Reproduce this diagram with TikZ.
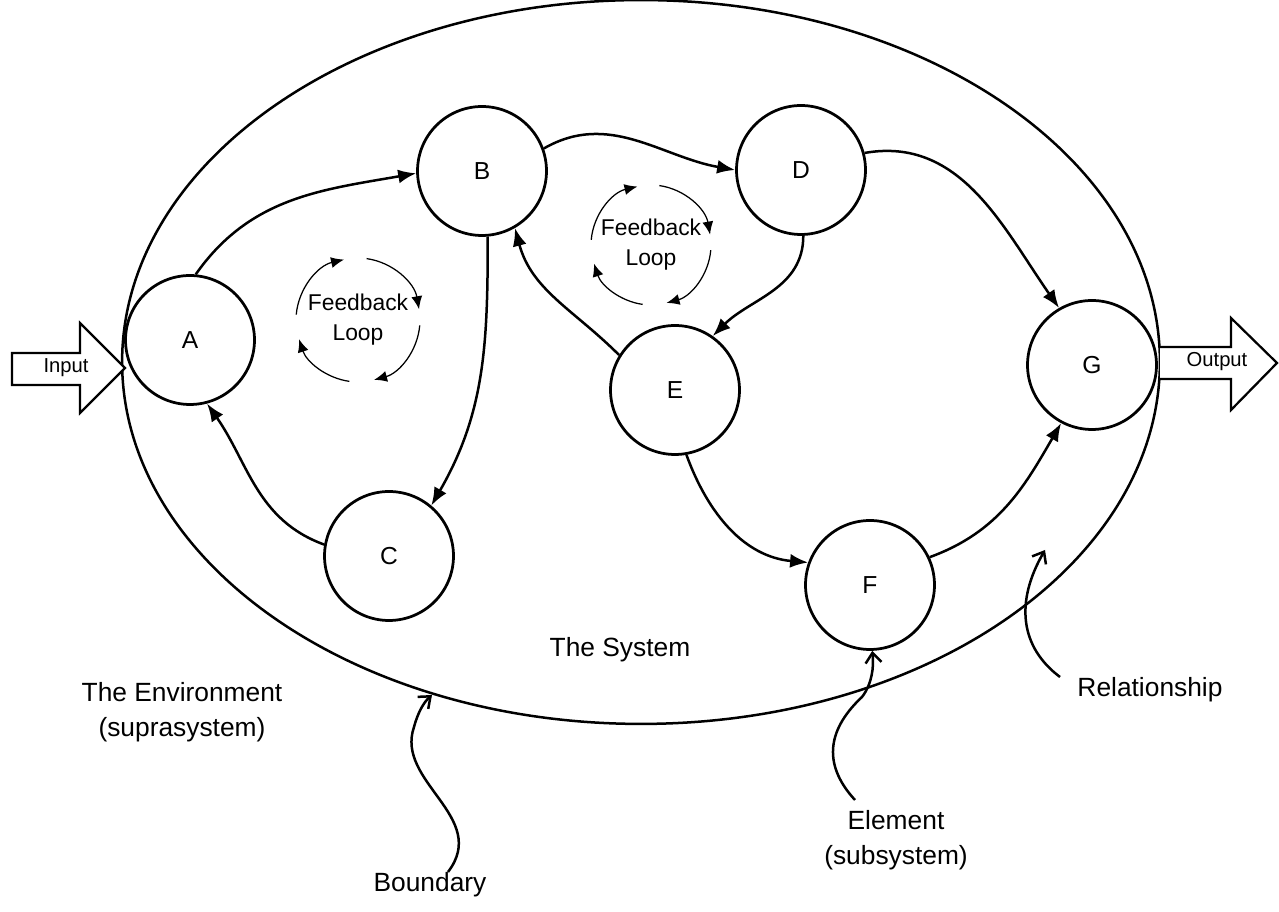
\documentclass[tikz,border=0pt]{standalone}
\usepackage{fontspec}
\setmainfont{Liberation Sans}
\usetikzlibrary{arrows.meta,calc}
\tikzset{
  elem/.style={draw, circle, line width=0.55mm, minimum size=2.58cm, inner sep=0pt, font=\fontsize{14}{16}\selectfont},
  flow/.style={line width=0.5mm, -{Latex[length=3.6mm,width=2.8mm]}},
  fbarc/.style={line width=0.25mm, -{Latex[length=2.6mm,width=2.2mm]}},
  callout/.style={line width=0.5mm, -{Straight Barb[length=2mm,width=3.2mm]}},
  lbl/.style={align=center, font=\fontsize{15}{20}\selectfont},
  fbtext/.style={align=center, font=\fontsize{13}{17}\selectfont},
  iotext/.style={font=\fontsize{11.5}{13}\selectfont},
  bigarrow/.style={draw, line width=0.45mm, fill=white}
}

\begin{document}
\begin{tikzpicture}[x=0.02cm, y=0.02cm]
		%%%%% START %%%%%
		\useasboundingbox (0,0) rectangle (1279,912);
		
		% boundary of the system
		\draw[line width=0.5mm] (641,550) ellipse (10.38cm and 7.24cm);
		
		% input and output
		\draw[bigarrow] (12,559) -- (80,559) -- (80,589) -- (125,544) -- (80,499) -- (80,527) -- (12,527) -- cycle;
		\draw[bigarrow] (1160,565) -- (1231,565) -- (1231,594) -- (1277,549) -- (1231,502) -- (1231,533) -- (1160,533);
		\node[iotext] (in) at (66,544) {Input};
		\node[iotext] (out) at (1217,550) {Output};
		
		% elements
		\node[elem] (A) at (190,572) {A};
		\node[elem] (B) at (482,741) {B};
		\node[elem] (C) at (389,356) {C};
		\node[elem] (D) at (801,742) {D};
		\node[elem] (E) at (675,522) {E};
		\node[elem] (F) at (870,327) {F};
		\node[elem] (G) at (1092,547) {G};
		
		% relationships
		\draw[flow] (A.85) to[out=55, in=190] (B.182);
		\draw[flow] (B.-85) to[out=-90, in=60] (C.50);
		\draw[flow] (C.170) to[out=160, in=-55] (A.-75);
		\draw[flow] (B.20) to[out=30, in=170] (D.180);
		\draw[flow] (D.-88) to[out=-90, in=45] (E.55);
		\draw[flow] (E.148) to[out=135, in=-75] (B.-60);
		\draw[flow] (D.15) to[out=10, in=125] (G.120);
		\draw[flow] (E.-80) to[out=-70, in=175] (F.160);
		\draw[flow] (F.25) to[out=20, in=-120] (G.-118);
		
		% feedback loops
		\node[fbtext] (fb1) at (358,592) {Feedback\\Loop};
		\node[fbtext] (fb2) at (651,667) {Feedback\\Loop};
		\foreach \s/\e in {175/103, 82/10, -5/-75, -98/-162} {
			\draw[fbarc] ($(fb1.center)+(\s:1.24cm)$) arc (\s:\e:1.24cm);
			\draw[fbarc] ($(fb2.center)+(\s:1.2cm)$) arc (\s:\e:1.2cm);
		}
		
		% labels
		\node[lbl] (sys) at (620,262) {The System};
		\node[lbl] (env) at (182,200) {The Environment\\(suprasystem)};
		\node[lbl] (bnd) at (430,27) {Boundary};
		\node[lbl] (elm) at (896,72) {Element\\(subsystem)};
		\node[lbl] (rel) at (1150,222) {Relationship};
		
		% callouts
		\coordinate (bdS) at (448,40);
		\coordinate (bdT) at (432,217);
		\coordinate (elS) at (855,112);
		\coordinate (rlS) at (1060,235);
		\coordinate (rlT) at (1045,362);
		\draw[callout] (bdS) .. controls (490,95) and (395,130) .. (414,185) .. controls (418,200) and (424,210) .. (bdT);
		\draw[callout] (elS) .. controls (820,150) and (830,185) .. (862,215) .. controls (872,228) and (874,245) .. (F.-88);
		\draw[callout] (rlS) .. controls (1020,265) and (1015,310) .. (rlT);
		
		%%%%% END %%%%%
\end{tikzpicture}
\end{document}
